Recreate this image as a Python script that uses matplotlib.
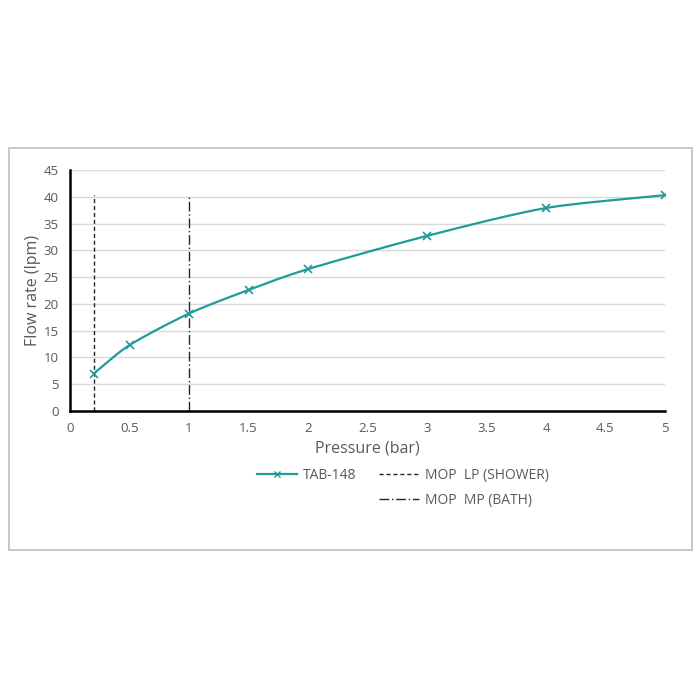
import numpy as np
import matplotlib
matplotlib.use("Agg")
import matplotlib.pyplot as plt
from matplotlib.lines import Line2D
from matplotlib.patches import Rectangle

pressure = [0.2, 0.5, 1.0, 1.5, 2.0, 3.0, 4.0, 5.0]
flow = [7.0, 12.3, 18.2, 22.6, 26.5, 32.7, 37.9, 40.3]
series_name = "TAB-148"
mop_lp_x = 0.2
mop_mp_x = 1.0
mop_top = 40.3
mop_lp_name = "MOP  LP (SHOWER)"
mop_mp_name = "MOP  MP (BATH)"
xticks = [0, 0.5, 1, 1.5, 2, 2.5, 3, 3.5, 4, 4.5, 5]
xticklabels = ["0", "0.5", "1", "1.5", "2", "2.5", "3", "3.5", "4", "4.5", "5"]
yticks = list(range(0, 50, 5))

plt.rcParams['font.family'] = ['Open Sans', 'DejaVu Sans']

teal = "#1f9c98"
gray_txt = "#595959"


def catmull_rom(x, y, n=30):
    x = np.asarray(x, float); y = np.asarray(y, float)
    P = np.column_stack([x, y])
    P = np.vstack([2 * P[0] - P[1], P, 2 * P[-1] - P[-2]])
    out = []
    for i in range(1, len(P) - 2):
        p0, p1, p2, p3 = P[i - 1], P[i], P[i + 1], P[i + 2]
        t = np.linspace(0, 1, n)[:, None]
        m1 = (p2 - p0) / 2 * 0.8
        m2 = (p3 - p1) / 2 * 0.8
        h00 = 2 * t**3 - 3 * t**2 + 1
        h10 = t**3 - 2 * t**2 + t
        h01 = -2 * t**3 + 3 * t**2
        h11 = t**3 - t**2
        seg = h00 * p1 + h10 * m1 + h01 * p2 + h11 * m2
        out.append(seg if i == 1 else seg[1:])
    s = np.vstack(out)
    return s[:, 0], s[:, 1]


fig = plt.figure(figsize=(7, 7), dpi=100)
fig.patches.append(Rectangle((9 / 700, 1 - 550 / 700), 683 / 700, 402 / 700,
                             transform=fig.transFigure, fill=False,
                             edgecolor="#bfbfbf", linewidth=1.2))

ax = fig.add_axes([70 / 700, 1 - 411 / 700, 595 / 700, 241 / 700])
ax.set_xlim(0, 5)
ax.set_ylim(0, 45)

sx, sy = catmull_rom(pressure, flow)
ax.plot(sx, sy, color=teal, linewidth=1.6, zorder=3)
ax.plot(pressure, flow, linestyle="none", marker="x", color=teal,
        markersize=6, markeredgewidth=1.2, zorder=4)

ax.plot([mop_lp_x, mop_lp_x], [0, mop_top], color="#262626",
        linestyle=(0, (3, 2)), linewidth=1.0, zorder=2)
ax.plot([mop_mp_x, mop_mp_x], [0, mop_top], color="#262626",
        linestyle=(0, (7, 2, 1, 2)), linewidth=1.0, zorder=2)

ax.set_yticks(yticks)
ax.set_xticks(xticks)
ax.set_xticklabels(xticklabels)
ax.yaxis.grid(True, color="#d9d9d9", linewidth=1.0)
ax.set_axisbelow(True)
for s in ["top", "right"]:
    ax.spines[s].set_visible(False)
for s in ["left", "bottom"]:
    ax.spines[s].set_color("black")
    ax.spines[s].set_linewidth(1.8)
ax.tick_params(length=0, labelsize=9.5, colors=gray_txt, pad=8)
ax.set_xlabel("Pressure (bar)", fontsize=11.5, color=gray_txt, labelpad=4)
ax.set_ylabel("Flow rate (lpm)", fontsize=11.5, color=gray_txt, labelpad=2)

h_tab = Line2D([], [], color=teal, linewidth=1.6, marker="x", markersize=4,
               markeredgewidth=1.0)
h_blank = Line2D([], [], color="none")
h_lp = Line2D([], [], color="#262626", linestyle=(0, (3, 2)), linewidth=1.0)
h_mp = Line2D([], [], color="#262626", linestyle=(0, (7, 2, 1, 2)), linewidth=1.0)
leg = fig.legend([h_tab, h_blank, h_lp, h_mp],
                 [series_name, "", mop_lp_name, mop_mp_name],
                 ncol=2, loc="center", bbox_to_anchor=(403 / 700, 1 - 488 / 700),
                 frameon=False, fontsize=10, handlelength=2.9,
                 columnspacing=1.6, labelspacing=0.75, handletextpad=0.45)
for t in leg.get_texts():
    t.set_color(gray_txt)

fig.savefig("out.png", dpi=100, facecolor="white")
